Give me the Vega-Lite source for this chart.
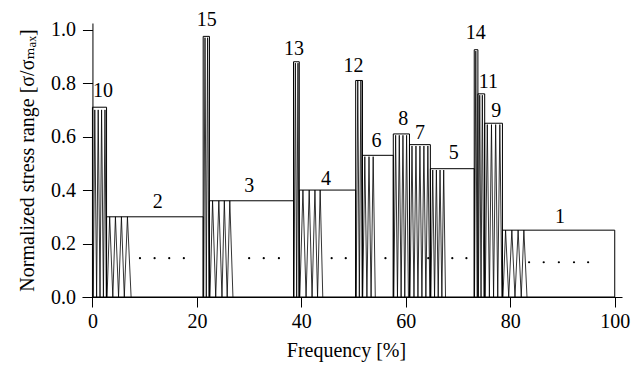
{
  "$schema": "https://vega.github.io/schema/vega-lite/v6.json",
  "width": 540,
  "height": 274,
  "autosize": {"type": "none"},
  "padding": {"left": 82, "top": 23, "right": 22, "bottom": 71},
  "background": "white",
  "config": {
    "view": {"stroke": null},
    "font": "Liberation Serif",
    "axis": {
      "grid": false,
      "domainColor": "black",
      "domainWidth": 1,
      "tickColor": "black",
      "tickWidth": 1,
      "tickSize": 10,
      "labelColor": "black",
      "labelFont": "Liberation Serif",
      "labelFontSize": 20,
      "titleColor": "black",
      "titleFont": "Liberation Serif, DejaVu Serif",
      "titleFontSize": 20,
      "titleFontWeight": "normal",
      "labelFlush": false,
      "labelOverlap": false
    }
  },
  "datasets": {
    "blocks": [
      {"block": "10", "freq": 0, "freq_end": 2.7, "stress": 0.71},
      {"block": "2", "freq": 2.7, "freq_end": 21.2, "stress": 0.30},
      {"block": "15", "freq": 21.2, "freq_end": 22.4, "stress": 0.975},
      {"block": "3", "freq": 22.4, "freq_end": 38.5, "stress": 0.36},
      {"block": "13", "freq": 38.5, "freq_end": 39.6, "stress": 0.88},
      {"block": "4", "freq": 39.6, "freq_end": 50.4, "stress": 0.40},
      {"block": "12", "freq": 50.4, "freq_end": 51.7, "stress": 0.81},
      {"block": "6", "freq": 51.7, "freq_end": 57.6, "stress": 0.53},
      {"block": "8", "freq": 57.6, "freq_end": 60.7, "stress": 0.61},
      {"block": "7", "freq": 60.7, "freq_end": 64.7, "stress": 0.57},
      {"block": "5", "freq": 64.7, "freq_end": 73.1, "stress": 0.48},
      {"block": "14", "freq": 73.1, "freq_end": 73.8, "stress": 0.925},
      {"block": "11", "freq": 73.8, "freq_end": 75.1, "stress": 0.76},
      {"block": "9", "freq": 75.1, "freq_end": 78.5, "stress": 0.65},
      {"block": "1", "freq": 78.5, "freq_end": 100, "stress": 0.25}
    ],
    "waves": [
      {"block": "10", "freq": 0.15, "stress": 0},
      {"block": "10", "freq": 0.45, "stress": 0.70},
      {"block": "10", "freq": 0.8, "stress": 0},
      {"block": "10", "freq": 1.1, "stress": 0.70},
      {"block": "10", "freq": 1.45, "stress": 0},
      {"block": "10", "freq": 1.75, "stress": 0.70},
      {"block": "10", "freq": 2.1, "stress": 0},
      {"block": "10", "freq": 2.4, "stress": 0.70},
      {"block": "10", "freq": 2.65, "stress": 0},

      {"block": "2", "freq": 2.8, "stress": 0},
      {"block": "2", "freq": 3.3, "stress": 0.30},
      {"block": "2", "freq": 3.9, "stress": 0},
      {"block": "2", "freq": 4.4, "stress": 0.30},
      {"block": "2", "freq": 5.0, "stress": 0},
      {"block": "2", "freq": 5.55, "stress": 0.30},
      {"block": "2", "freq": 6.1, "stress": 0},
      {"block": "2", "freq": 6.7, "stress": 0.30},
      {"block": "2", "freq": 7.4, "stress": 0},

      {"block": "15", "freq": 21.3, "stress": 0},
      {"block": "15", "freq": 21.55, "stress": 0.97},
      {"block": "15", "freq": 21.8, "stress": 0},
      {"block": "15", "freq": 22.05, "stress": 0.97},
      {"block": "15", "freq": 22.3, "stress": 0},

      {"block": "3", "freq": 22.5, "stress": 0},
      {"block": "3", "freq": 23.0, "stress": 0.36},
      {"block": "3", "freq": 23.6, "stress": 0},
      {"block": "3", "freq": 24.2, "stress": 0.36},
      {"block": "3", "freq": 24.8, "stress": 0},
      {"block": "3", "freq": 25.25, "stress": 0.36},
      {"block": "3", "freq": 25.8, "stress": 0},
      {"block": "3", "freq": 26.3, "stress": 0.36},
      {"block": "3", "freq": 26.9, "stress": 0},

      {"block": "13", "freq": 38.6, "stress": 0},
      {"block": "13", "freq": 38.85, "stress": 0.875},
      {"block": "13", "freq": 39.1, "stress": 0},
      {"block": "13", "freq": 39.35, "stress": 0.875},
      {"block": "13", "freq": 39.55, "stress": 0},

      {"block": "4", "freq": 39.7, "stress": 0},
      {"block": "4", "freq": 40.3, "stress": 0.40},
      {"block": "4", "freq": 40.9, "stress": 0},
      {"block": "4", "freq": 41.5, "stress": 0.40},
      {"block": "4", "freq": 42.05, "stress": 0},
      {"block": "4", "freq": 42.6, "stress": 0.40},
      {"block": "4", "freq": 43.1, "stress": 0},
      {"block": "4", "freq": 43.6, "stress": 0.40},
      {"block": "4", "freq": 44.1, "stress": 0},

      {"block": "12", "freq": 50.5, "stress": 0},
      {"block": "12", "freq": 50.8, "stress": 0.81},
      {"block": "12", "freq": 51.1, "stress": 0},
      {"block": "12", "freq": 51.4, "stress": 0.81},
      {"block": "12", "freq": 51.65, "stress": 0},

      {"block": "6", "freq": 51.75, "stress": 0},
      {"block": "6", "freq": 52.15, "stress": 0.525},
      {"block": "6", "freq": 52.55, "stress": 0},
      {"block": "6", "freq": 52.95, "stress": 0.525},
      {"block": "6", "freq": 53.35, "stress": 0},
      {"block": "6", "freq": 53.75, "stress": 0.525},
      {"block": "6", "freq": 54.15, "stress": 0},

      {"block": "8", "freq": 57.7, "stress": 0},
      {"block": "8", "freq": 58.05, "stress": 0.605},
      {"block": "8", "freq": 58.4, "stress": 0},
      {"block": "8", "freq": 58.75, "stress": 0.605},
      {"block": "8", "freq": 59.1, "stress": 0},
      {"block": "8", "freq": 59.45, "stress": 0.605},
      {"block": "8", "freq": 59.8, "stress": 0},
      {"block": "8", "freq": 60.15, "stress": 0.605},
      {"block": "8", "freq": 60.5, "stress": 0},

      {"block": "7", "freq": 60.8, "stress": 0},
      {"block": "7", "freq": 61.18, "stress": 0.565},
      {"block": "7", "freq": 61.56, "stress": 0},
      {"block": "7", "freq": 61.94, "stress": 0.565},
      {"block": "7", "freq": 62.32, "stress": 0},
      {"block": "7", "freq": 62.7, "stress": 0.565},
      {"block": "7", "freq": 63.08, "stress": 0},
      {"block": "7", "freq": 63.46, "stress": 0.565},
      {"block": "7", "freq": 63.84, "stress": 0},
      {"block": "7", "freq": 64.22, "stress": 0.565},
      {"block": "7", "freq": 64.6, "stress": 0},

      {"block": "5", "freq": 64.8, "stress": 0},
      {"block": "5", "freq": 65.15, "stress": 0.475},
      {"block": "5", "freq": 65.5, "stress": 0},
      {"block": "5", "freq": 65.85, "stress": 0.475},
      {"block": "5", "freq": 66.2, "stress": 0},
      {"block": "5", "freq": 66.55, "stress": 0.475},
      {"block": "5", "freq": 66.9, "stress": 0},
      {"block": "5", "freq": 67.25, "stress": 0.475},
      {"block": "5", "freq": 67.6, "stress": 0},

      {"block": "14", "freq": 73.15, "stress": 0},
      {"block": "14", "freq": 73.4, "stress": 0.92},
      {"block": "14", "freq": 73.65, "stress": 0},

      {"block": "11", "freq": 73.9, "stress": 0},
      {"block": "11", "freq": 74.15, "stress": 0.755},
      {"block": "11", "freq": 74.4, "stress": 0},
      {"block": "11", "freq": 74.65, "stress": 0.755},
      {"block": "11", "freq": 74.95, "stress": 0},

      {"block": "9", "freq": 75.2, "stress": 0},
      {"block": "9", "freq": 75.6, "stress": 0.645},
      {"block": "9", "freq": 76.0, "stress": 0},
      {"block": "9", "freq": 76.4, "stress": 0.645},
      {"block": "9", "freq": 76.8, "stress": 0},
      {"block": "9", "freq": 77.2, "stress": 0.645},
      {"block": "9", "freq": 77.6, "stress": 0},
      {"block": "9", "freq": 78.0, "stress": 0.645},
      {"block": "9", "freq": 78.4, "stress": 0},

      {"block": "1", "freq": 78.6, "stress": 0},
      {"block": "1", "freq": 79.1, "stress": 0.25},
      {"block": "1", "freq": 79.7, "stress": 0},
      {"block": "1", "freq": 80.3, "stress": 0.25},
      {"block": "1", "freq": 80.9, "stress": 0},
      {"block": "1", "freq": 81.5, "stress": 0.25},
      {"block": "1", "freq": 82.1, "stress": 0},
      {"block": "1", "freq": 82.6, "stress": 0.25},
      {"block": "1", "freq": 83.2, "stress": 0}
    ],
    "dots": [
      {"block": "2", "freq": 9.1, "stress": 0.145},
      {"block": "2", "freq": 11.9, "stress": 0.145},
      {"block": "2", "freq": 14.7, "stress": 0.145},
      {"block": "2", "freq": 17.5, "stress": 0.145},
      {"block": "3", "freq": 30.0, "stress": 0.145},
      {"block": "3", "freq": 32.8, "stress": 0.145},
      {"block": "3", "freq": 35.7, "stress": 0.145},
      {"block": "4", "freq": 45.8, "stress": 0.145},
      {"block": "4", "freq": 48.5, "stress": 0.145},
      {"block": "6", "freq": 56.1, "stress": 0.145},
      {"block": "7", "freq": 64.3, "stress": 0.145},
      {"block": "5", "freq": 68.9, "stress": 0.145},
      {"block": "5", "freq": 71.6, "stress": 0.145},
      {"block": "1", "freq": 83.6, "stress": 0.13},
      {"block": "1", "freq": 86.4, "stress": 0.13},
      {"block": "1", "freq": 89.3, "stress": 0.13},
      {"block": "1", "freq": 92.2, "stress": 0.13},
      {"block": "1", "freq": 94.9, "stress": 0.13}
    ],
    "labels": [
      {"block": "10", "freq": 2.0, "stress": 0.748},
      {"block": "15", "freq": 21.9, "stress": 1.015},
      {"block": "2", "freq": 12.5, "stress": 0.332},
      {"block": "3", "freq": 30.0, "stress": 0.391},
      {"block": "13", "freq": 38.6, "stress": 0.906},
      {"block": "4", "freq": 44.7, "stress": 0.419},
      {"block": "12", "freq": 50.0, "stress": 0.840},
      {"block": "6", "freq": 54.4, "stress": 0.561},
      {"block": "8", "freq": 59.5, "stress": 0.644},
      {"block": "7", "freq": 62.7, "stress": 0.591},
      {"block": "5", "freq": 69.2, "stress": 0.516},
      {"block": "14", "freq": 73.4, "stress": 0.965},
      {"block": "11", "freq": 75.8, "stress": 0.782},
      {"block": "9", "freq": 77.3, "stress": 0.673},
      {"block": "1", "freq": 89.5, "stress": 0.278}
    ]
  },
  "layer": [
    {
      "data": {"name": "blocks"},
      "mark": {"type": "rect", "filled": false, "color": "black", "strokeWidth": 1},
      "encoding": {
        "x": {
          "field": "freq",
          "type": "quantitative",
          "scale": {"domain": [-2, 101.39], "nice": false, "zero": false},
          "axis": {
            "title": "Frequency [%]",
            "values": [0, 20, 40, 60, 80, 100],
            "format": "d",
            "labelPadding": 4,
            "titlePadding": 9,
            "titleX": 264
          }
        },
        "x2": {"field": "freq_end"},
        "y": {
          "field": "stress",
          "type": "quantitative",
          "scale": {"domain": [0, 1.025], "nice": false},
          "axis": {
            "title": "Normalized stress range [σ/σₘₐₓ]",
            "values": [0, 0.2, 0.4, 0.6, 0.8, 1.0],
            "format": ".1f",
            "offset": -10.45,
            "labelPadding": 7,
            "titlePadding": 13
          }
        },
        "y2": {"datum": 0}
      }
    },
    {
      "data": {"name": "waves"},
      "mark": {"type": "line", "color": "black", "strokeWidth": 0.8},
      "encoding": {
        "x": {"field": "freq", "type": "quantitative"},
        "y": {"field": "stress", "type": "quantitative"},
        "detail": {"field": "block"}
      }
    },
    {
      "data": {"name": "dots"},
      "mark": {"type": "circle", "color": "black", "size": 5, "opacity": 1},
      "encoding": {
        "x": {"field": "freq", "type": "quantitative"},
        "y": {"field": "stress", "type": "quantitative"}
      }
    },
    {
      "data": {"name": "labels"},
      "mark": {"type": "text", "font": "Liberation Serif", "fontSize": 20, "baseline": "alphabetic", "align": "center", "color": "black"},
      "encoding": {
        "x": {"field": "freq", "type": "quantitative"},
        "y": {"field": "stress", "type": "quantitative"},
        "text": {"field": "block"}
      }
    }
  ]
}
